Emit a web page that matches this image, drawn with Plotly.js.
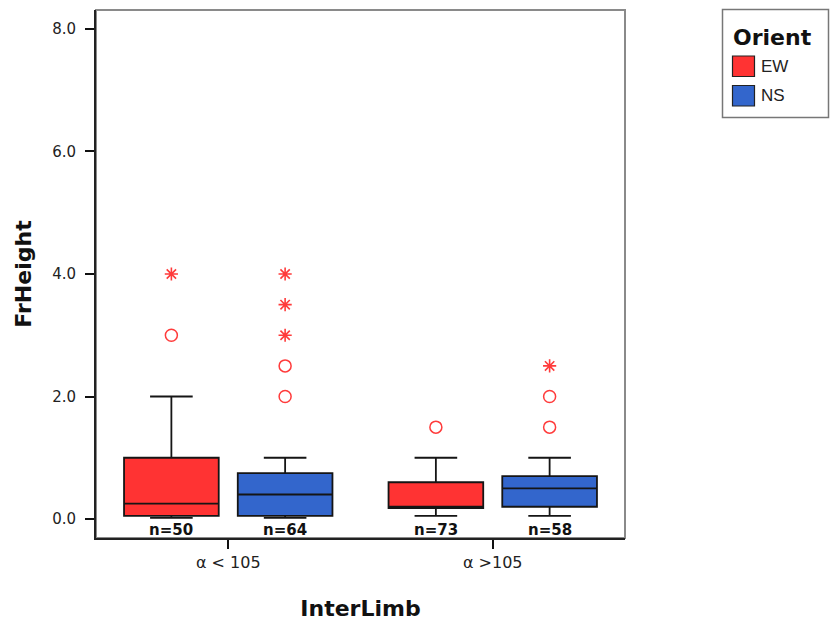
<!DOCTYPE html>
<html>
<head>
<meta charset="utf-8">
<script src="https://cdn.plot.ly/plotly-3.0.1.min.js"></script>
<style>html,body{margin:0;padding:0;background:#fff;}#chart{width:830px;height:625px;}</style>
</head>
<body>
<div id="chart"></div>
<script>
// ---- data ----
const categories = ['\u03b1 < 105', '\u03b1 >105'];
const seriesNames = ['EW', 'NS'];

const ewLow    = [0.02, 0.05];
const ewQ1     = [0.05, 0.18];
const ewMedian = [0.25, 0.20];
const ewQ3     = [1.00, 0.60];
const ewHigh   = [2.00, 1.00];
const ewCircles = [[3.0], [1.5]];
const ewStars   = [[4.0], []];
const ewN = [50, 73];

const nsLow    = [0.02, 0.05];
const nsQ1     = [0.05, 0.20];
const nsMedian = [0.40, 0.50];
const nsQ3     = [0.75, 0.70];
const nsHigh   = [1.00, 1.00];
const nsCircles = [[2.0, 2.5], [1.5, 2.0]];
const nsStars   = [[3.0, 3.5, 4.0], [2.5]];
const nsN = [64, 58];

const yTicks = [0, 2, 4, 6, 8];
const legendTitle = 'Orient';

// ---- styling ----
const FONT = 'DejaVu Sans, Verdana, sans-serif';
const FONT2 = 'Liberation Sans, Arial, sans-serif';
const colors = ['#ff3333', '#3366cc'];
const outlierColor = '#ff3b3b';
const OFF = 0.215, BW = 0.358;
const catIdx = categories.map((c, i) => i);

// plot area in pixels (for paper-referenced legend placement)
const W = 830, H = 625, ML = 96, MR = 205, MT = 10, MB = 87;
const PW = W - ML - MR, PH = H - MT - MB;
const px = x => (x - ML) / PW;
const py = y => (H - MB - y) / PH;

const groups = [
  {name: seriesNames[0], low: ewLow, q1: ewQ1, med: ewMedian, q3: ewQ3, high: ewHigh, circ: ewCircles, star: ewStars, n: ewN, off: -OFF, color: colors[0]},
  {name: seriesNames[1], low: nsLow, q1: nsQ1, med: nsMedian, q3: nsQ3, high: nsHigh, circ: nsCircles, star: nsStars, n: nsN, off: OFF, color: colors[1]}
];

const traces = [];
const annotations = [];
const shapes = [];

// plot frame (grey top/right like the reference)
shapes.push({type: 'rect', xref: 'paper', yref: 'paper', x0: 0, x1: 1, y0: 0, y1: 1,
  line: {color: '#8a8a8a', width: 2}, layer: 'below'});

groups.forEach((g, gi) => {
  const xs = catIdx.map(i => i + g.off);
  traces.push({
    type: 'box', name: g.name, x: xs,
    q1: g.q1, median: g.med, q3: g.q3, lowerfence: g.low, upperfence: g.high,
    width: BW, whiskerwidth: 0.45,
    fillcolor: g.color, line: {color: '#151515', width: 1.8},
    boxpoints: false, hoverinfo: 'skip', showlegend: false
  });
  const cx = [], cy = [], sx = [], sy = [];
  catIdx.forEach(i => {
    g.circ[i].forEach(v => { cx.push(i + g.off); cy.push(v); });
    g.star[i].forEach(v => { sx.push(i + g.off); sy.push(v); });
    annotations.push({
      x: i + g.off, y: 0, xref: 'x', yref: 'y', yanchor: 'top', yshift: 0,
      text: 'n=' + g.n[i], showarrow: false,
      font: {family: FONT, size: 15, color: '#111', weight: 'bold'}
    });
  });
  traces.push({type: 'scatter', mode: 'markers', x: cx, y: cy, showlegend: false, hoverinfo: 'skip',
    marker: {symbol: 'circle-open', size: 12, color: outlierColor, line: {width: 1.5, color: outlierColor}}});
  traces.push({type: 'scatter', mode: 'markers', x: sx, y: sy, showlegend: false, hoverinfo: 'skip',
    marker: {symbol: 'asterisk-open', size: 11, color: outlierColor, line: {width: 1.6, color: outlierColor}}});

  // legend entry (drawn manually to match the large swatches)
  const top = 56 + gi * 29.5;
  shapes.push({type: 'rect', xref: 'paper', yref: 'paper',
    x0: px(732.5), x1: px(754.5), y0: py(top), y1: py(top + 20.5),
    fillcolor: g.color, line: {color: '#222', width: 1.2}});
  annotations.push({xref: 'paper', yref: 'paper', x: px(759), y: py(top + 10.5),
    xanchor: 'left', yanchor: 'middle', showarrow: false, text: g.name,
    font: {family: FONT2, size: 17, color: '#222'}});
});

// legend frame + title
shapes.push({type: 'rect', xref: 'paper', yref: 'paper',
  x0: px(722.5), x1: px(828.5), y0: py(117.5), y1: py(9.5),
  line: {color: '#777', width: 1.5}, fillcolor: 'rgba(0,0,0,0)'});
annotations.push({xref: 'paper', yref: 'paper', x: px(731), y: py(37),
  xanchor: 'left', yanchor: 'middle', showarrow: false, text: legendTitle,
  font: {family: FONT, size: 22, color: '#111', weight: 'bold'}});

const layout = {
  width: W, height: H,
  margin: {l: ML, r: MR, t: MT, b: MB},
  paper_bgcolor: '#fff', plot_bgcolor: '#fff',
  showlegend: false,
  xaxis: {
    range: [-0.5, 1.5], tickvals: catIdx, ticktext: categories,
    showgrid: false, zeroline: false, showline: true, linecolor: '#222', linewidth: 2,
    ticks: 'outside', ticklen: 9, tickwidth: 2, tickcolor: '#111',
    tickfont: {family: FONT, size: 16, color: '#222'},
    title: {text: 'InterLimb', font: {family: FONT, size: 22, color: '#111', weight: 'bold'}, standoff: 29}
  },
  yaxis: {
    range: [-0.31, 8.31], tickvals: yTicks, tickformat: '.1f',
    showgrid: false, zeroline: false, showline: true, linecolor: '#222', linewidth: 2,
    ticks: 'outside', ticklen: 9, tickwidth: 2, tickcolor: '#111', ticklabelstandoff: 6,
    tickfont: {family: FONT, size: 15, color: '#222'},
    title: {text: 'FrHeight', font: {family: FONT, size: 22, color: '#111', weight: 'bold'}, standoff: 14}
  },
  shapes: shapes,
  annotations: annotations
};

Plotly.newPlot('chart', traces, layout, {displayModeBar: false, staticPlot: true});
</script>
</body>
</html>
